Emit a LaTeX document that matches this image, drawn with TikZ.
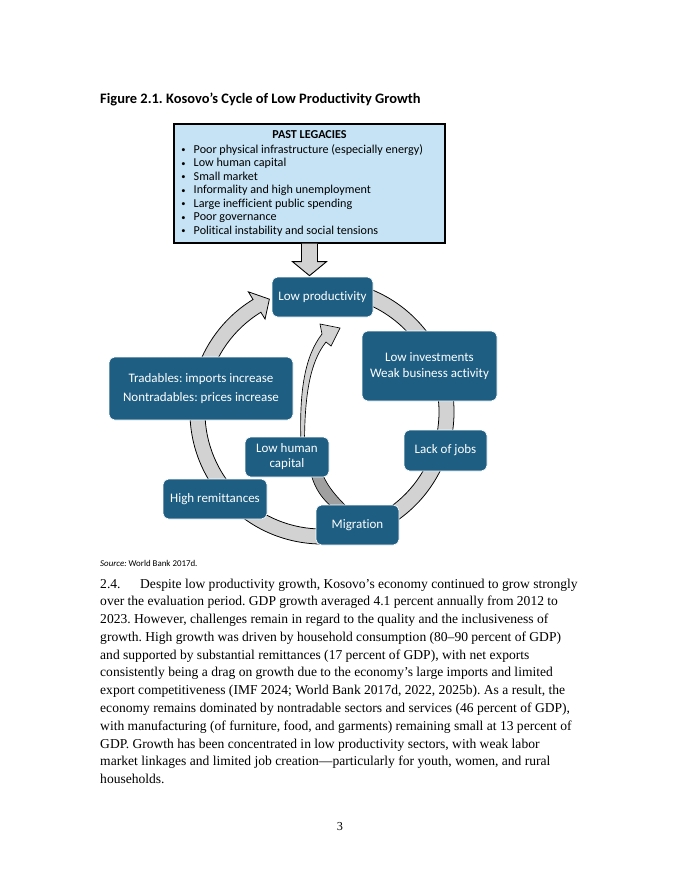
\documentclass[tikz,border=0pt]{standalone}
\usepackage{fontspec}
\setmainfont{Liberation Serif}
\newfontfamily\carl[Ligatures=NoCommon]{Carlito}
\definecolor{boxblue}{RGB}{29,94,130}
\definecolor{legblue}{RGB}{197,227,244}
\definecolor{ringgray}{RGB}{210,210,210}
\definecolor{undergray}{RGB}{160,160,160}
\newcommand{\lgbul}{\makebox[11.7pt][l]{\hspace{0.6pt}\raisebox{0.4pt}{\scalebox{0.7}{•}}}}
\frenchspacing
\begin{document}
\begin{tikzpicture}[x=0.9pt,y=-0.9pt,
  cyc/.style={rectangle, rounded corners=5pt, fill=boxblue, draw=white, line width=0.6pt,
    text=white, font=\carl\fontsize{11.7}{14}\selectfont, align=center, inner sep=0pt},
  band/.style={draw=black, line width=0.7pt, fill=ringgray},
  blockarrow/.style={draw=black, line width=0.8pt, fill=ringgray},
  plain/.style={inner sep=0pt, anchor=base west},
]
\useasboundingbox (0,0) rectangle (680,880);
\fill[white] (0,0) rectangle (680,880);

% title
\node[plain, font=\carl\bfseries\fontsize{13}{15}\selectfont] (title) at (100,103)
  {Figure 2.1. Kosovo’s Cycle of Low Productivity Growth};

% past legacies box
\node[draw=black, line width=1.2pt, fill=legblue, minimum width=243.9pt,
  minimum height=107.1pt, inner sep=0pt] (leg) at (309.5,183.5) {};
\node[inner sep=0pt, anchor=base, font=\carl\bfseries\fontsize{10.9}{12}\selectfont]
  (legt) at (309.5,138) {PAST LEGACIES};
\node[plain, font=\carl\fontsize{10.9}{12.2}\selectfont] (legl) at (180.5,153)
  {\begin{tabular}[t]{@{}l@{}}
  \lgbul Poor physical infrastructure (especially energy)\\
  \lgbul Low human capital\\
  \lgbul Small market\\
  \lgbul Informality and high unemployment\\
  \lgbul Large inefficient public spending\\
  \lgbul Poor governance\\
  \lgbul Political instability and social tensions
  \end{tabular}};

% block arrow down
\draw[blockarrow] ([xshift=-7.2pt]leg.south) -- ++(0,18) -- ++(-9,0) -- ++(17,14)
  -- ++(17,-14) -- ++(-9,0) -- ++(0,-18);

% big cycle ring
\begin{scope}[shift={(322,412)}]
  \draw[band] (-80:132) arc[start angle=-80, end angle=238.5, radius=132]
    -- (238.5:141) -- (245:124.5) -- (238.5:109) -- (238.5:117)
    arc[start angle=238.5, end angle=-80, radius=117] -- cycle;
\end{scope}

% inner curved arrow
\draw[band, line width=0.6pt, fill=undergray] (310,470) .. controls (314,488) and (322,500) .. (338,512)
  -- (352,512) .. controls (340,500) and (327,488) .. (321,470) -- cycle;
\draw[band, line width=0.6pt] (301,445) .. controls (299,390) and (305,356) .. (322,334)
  -- (320,324) -- (340,328) -- (331,346) -- (326,342)
  .. controls (310,362) and (304.5,395) .. (304.5,445) -- cycle;

% cycle boxes
\node[cyc, minimum width=90.9pt, minimum height=36pt] (lp) at (322.5,297) {Low productivity};
\node[cyc, minimum width=121.5pt, minimum height=63pt, font=\carl\fontsize{11.7}{14.4}\selectfont]
  (li) at (429.5,366) {Low investments\\Weak business activity};
\node[cyc, minimum width=74.7pt, minimum height=36.9pt] (lj) at (445.5,450.5) {Lack of jobs};
\node[cyc, minimum width=74.7pt, minimum height=36pt] (mig) at (357.5,525) {Migration};
\node[cyc, minimum width=93.6pt, minimum height=36pt] (hr) at (215,499) {High remittances};
\node[cyc, minimum width=75.6pt, minimum height=36pt, font=\carl\fontsize{11.7}{13.5}\selectfont]
  (lhc) at (287,457) {Low human\\capital};
\node[cyc, minimum width=165.6pt, minimum height=56.7pt, font=\carl\fontsize{11.7}{17}\selectfont]
  (tr) at (201,388.5) {Tradables: imports increase\\Nontradables: prices increase};

% source
\node[plain, font=\carl\fontsize{8}{10}\selectfont] (src) at (100,566)
  {\textit{Source:} World Bank 2017d.};

% body paragraph
\node[plain, font=\fontsize{12.2}{16}\selectfont] (body) at (100,588)
  {\parbox[t]{520pt}{\raggedright
  \makebox[36pt][l]{2.4.}Despite low productivity growth, Kosovo’s economy continued to grow strongly\\
  over the evaluation period. GDP growth averaged 4.1 percent annually from 2012 to\\
  2023. However, challenges remain in regard to the quality and the inclusiveness of\\
  growth. High growth was driven by household consumption (80–90 percent of GDP)\\
  and supported by substantial remittances (17 percent of GDP), with net exports\\
  consistently being a drag on growth due to the economy’s large imports and limited\\
  export competitiveness (IMF 2024; World Bank 2017d, 2022, 2025b). As a result, the\\
  economy remains dominated by nontradable sectors and services (46 percent of GDP),\\
  with manufacturing (of furniture, food, and garments) remaining small at 13 percent of\\
  GDP. Growth has been concentrated in low productivity sectors, with weak labor\\
  market linkages and limited job creation—particularly for youth, women, and rural\\
  households.}};

% page number
\node[inner sep=0pt, anchor=base, font=\fontsize{11}{13}\selectfont] (pg) at (340,830) {3};
\end{tikzpicture}
\end{document}
